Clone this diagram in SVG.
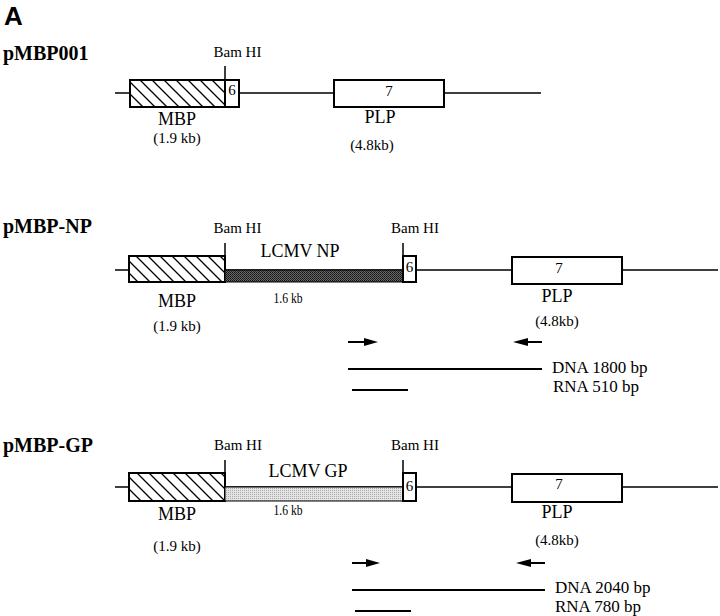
<svg xmlns="http://www.w3.org/2000/svg" width="720" height="616" viewBox="0 0 720 616">
<style>
text{font-family:"Liberation Serif","Times New Roman",serif;fill:#000}
.t{font-size:20px;font-weight:bold}
.bam{font-size:15px;text-anchor:middle}
.lab{font-size:18px;text-anchor:middle}
.sm{font-size:15px;text-anchor:middle}
.kb{font-size:15px;text-anchor:middle}
.ex{font-size:15px;text-anchor:middle}
.pcr{font-size:17px}
.ln{stroke:#000;stroke-width:1.5;fill:none}
.box{stroke:#000;stroke-width:2;fill:#fff}
.hatch{stroke:#000;stroke-width:2;fill:url(#h)}
.np{stroke:#000;stroke-width:1;fill:url(#dk)}
.gp{stroke:#000;stroke-width:1;fill:url(#lt)}
.tick{stroke:#000;stroke-width:1.5}
</style>
<defs>
<pattern id="h" patternUnits="userSpaceOnUse" width="12" height="12">
<rect width="12" height="12" fill="#fff"/>
<path d="M-6,-6 L18,18 M-6,6 L6,18 M6,-6 L18,6" stroke="#000" stroke-width="1.3"/>
</pattern>
<pattern id="dk" patternUnits="userSpaceOnUse" width="2" height="2">
<rect width="2" height="2" fill="#6a6a6a"/>
<rect width="1" height="1" fill="#111"/>
<rect x="1" y="1" width="1" height="1" fill="#222"/>
</pattern>
<pattern id="lt" patternUnits="userSpaceOnUse" width="2" height="2">
<rect width="2" height="2" fill="#e4e4e4"/>
<rect width="1" height="1" fill="#aaa"/>
</pattern>
</defs>
<rect width="720" height="616" fill="#fff"/>
<text x="4" y="25" style="font-family:'Liberation Sans',Arial,sans-serif;font-size:26px;font-weight:bold">A</text>

<g id="connectors">
<path class="ln" d="M115,93 H334 M444,93 H541"/>
<path class="ln" d="M115,270 H512 M622,270 H718"/>
<path class="ln" d="M115,487 H512 M622,487 H718"/>
<path class="tick" d="M225,66 V80 M225,243 V256 M403,243 V256 M225,460 V473 M403,460 V473"/>
</g>

<g id="pMBP001">
<text class="t" x="3" y="60">pMBP001</text>
<text class="bam" x="237.5" y="57">Bam HI</text>
<rect class="hatch" x="130" y="80" width="95" height="27"/>
<rect class="box" x="225" y="80" width="14" height="27"/>
<text class="ex" x="232" y="95">6</text>
<rect class="box" x="334" y="80" width="110" height="27"/>
<text class="ex" x="389" y="96">7</text>
<text class="lab" x="177" y="125">MBP</text>
<text class="sm" x="177" y="143">(1.9 kb)</text>
<text class="lab" x="380" y="123">PLP</text>
<text class="sm" x="372" y="150">(4.8kb)</text>
</g>

<g id="pMBP-NP">
<text class="t" x="3" y="233">pMBP-NP</text>
<text class="bam" x="237.5" y="233">Bam HI</text>
<text class="bam" x="415" y="233">Bam HI</text>
<rect class="hatch" x="129" y="256" width="96" height="26"/>
<rect class="np" x="225" y="270" width="178" height="12"/>
<rect class="box" x="403" y="256" width="13" height="26"/>
<text class="ex" x="409.5" y="272">6</text>
<text class="lab" x="300" y="257">LCMV NP</text>
<text class="kb" x="288" y="303" textLength="29" lengthAdjust="spacingAndGlyphs">1.6 kb</text>
<rect class="box" x="512" y="257" width="110" height="27"/>
<text class="ex" x="559" y="273">7</text>
<text class="lab" x="177" y="307">MBP</text>
<text class="sm" x="177" y="331">(1.9 kb)</text>
<text class="lab" x="557" y="302">PLP</text>
<text class="sm" x="557" y="326">(4.8kb)</text>
</g>

<g id="pcr-NP">
<path d="M348,342 H366" stroke="#000" stroke-width="2"/>
<path d="M364,338 L378,342 L364,346 Z" fill="#000"/>
<path d="M527,342 H542" stroke="#000" stroke-width="2"/>
<path d="M528,338 L513,342 L528,346 Z" fill="#000"/>
<path d="M348,369 H542" stroke="#000" stroke-width="1.8"/>
<text class="pcr" x="552" y="373">DNA 1800 bp</text>
<path d="M352,390 H408" stroke="#000" stroke-width="1.8"/>
<text class="pcr" x="553" y="392">RNA 510 bp</text>
</g>

<g id="pMBP-GP">
<text class="t" x="3" y="452">pMBP-GP</text>
<text class="bam" x="238" y="450">Bam HI</text>
<text class="bam" x="415" y="450">Bam HI</text>
<rect class="hatch" x="129" y="473" width="96" height="28"/>
<rect class="gp" x="225" y="487" width="178" height="14"/>
<rect class="box" x="403" y="473" width="13" height="28"/>
<text class="ex" x="409.5" y="491">6</text>
<text class="lab" x="308" y="477">LCMV GP</text>
<text class="kb" x="288" y="515" textLength="29" lengthAdjust="spacingAndGlyphs">1.6 kb</text>
<rect class="box" x="512" y="474" width="110" height="28"/>
<text class="ex" x="559" y="489">7</text>
<text class="lab" x="177" y="520">MBP</text>
<text class="sm" x="177" y="551">(1.9 kb)</text>
<text class="lab" x="557" y="518">PLP</text>
<text class="sm" x="557" y="545">(4.8kb)</text>
</g>

<g id="pcr-GP">
<path d="M352,563 H368" stroke="#000" stroke-width="2"/>
<path d="M366,559 L380,563 L366,567 Z" fill="#000"/>
<path d="M530,563 H545" stroke="#000" stroke-width="2"/>
<path d="M531,559 L516,563 L531,567 Z" fill="#000"/>
<path d="M352,590 H545" stroke="#000" stroke-width="1.8"/>
<text class="pcr" x="555" y="593">DNA 2040 bp</text>
<path d="M355,611 H411" stroke="#000" stroke-width="1.8"/>
<text class="pcr" x="555" y="612">RNA 780 bp</text>
</g>
</svg>
